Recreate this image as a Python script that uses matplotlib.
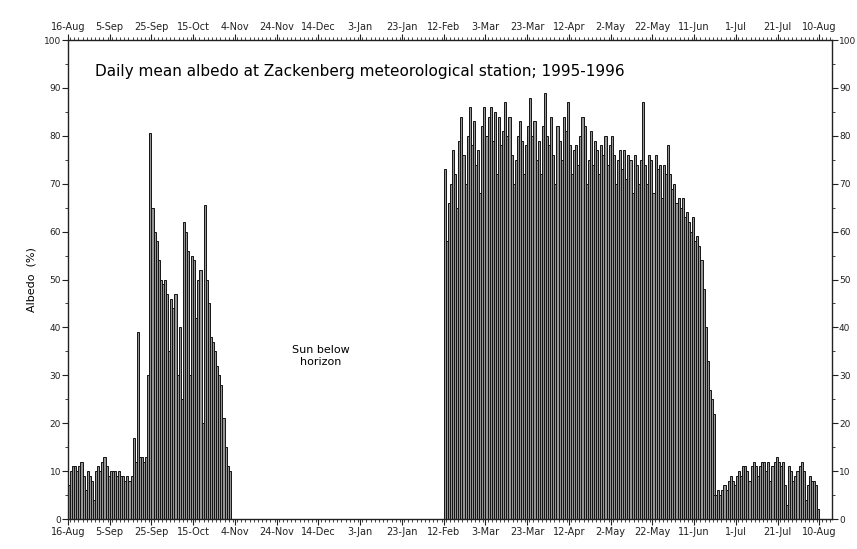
import numpy as np
import pandas as pd
import matplotlib

matplotlib.use("agg")
import matplotlib.pyplot as plt
import matplotlib.dates as mdates

plt.rcParams["font.family"] = ["DejaVu Sans"]

# daily mean albedo (%), three measurement periods
autumn_start = "1995-08-16"
autumn_albedo = [7, 10, 11, 11, 10, 11, 12, 9, 6, 10,
                 9, 8, 4, 10, 11, 10, 12, 13, 11, 9,
                 10, 10, 10, 9, 10, 9, 9, 8, 9, 8,
                 9, 17, 12, 39, 13, 13, 12, 13, 30, 80.5,
                 65, 60, 58, 54, 50, 49, 50, 47, 35, 46,
                 44, 47, 30, 40, 25, 62, 60, 56, 30, 55,
                 54, 42, 50, 52, 20, 65.5, 50, 45, 38, 37,
                 35, 32, 30, 28, 21, 15, 11, 10]

spring_start = "1996-02-12"
spring_albedo = [73, 58, 66, 70, 77, 72, 65, 79, 84, 76,
                 70, 80, 86, 78, 83, 74, 77, 68, 82, 86,
                 80, 84, 86, 79, 85, 72, 84, 78, 81, 87,
                 80, 84, 76, 70, 75, 80, 83, 79, 72, 78,
                 82, 88, 80, 83, 75, 79, 72, 82, 89, 80,
                 78, 84, 76, 70, 82, 79, 75, 84, 81, 87,
                 78, 72, 77, 78, 74, 80, 84, 82, 70, 75,
                 81, 74, 79, 77, 72, 78, 76, 80, 74, 78,
                 80, 76, 70, 75, 77, 73, 77, 71, 76, 75,
                 68, 76, 74, 70, 75, 87, 74, 70, 76, 75,
                 68, 76, 73, 74, 67, 74, 72, 78, 72, 69,
                 70, 66, 67, 65, 67, 63, 64, 62, 60, 63,
                 58, 59, 57, 54, 48, 40, 33, 27, 25, 22]

summer_start = "1996-06-20"
summer_albedo = [5, 5, 6, 5, 6, 7, 6, 8, 9, 8,
                 7, 9, 10, 9, 11, 11, 10, 8, 11, 12,
                 11, 9, 11, 12, 12, 10, 12, 8, 11, 12,
                 13, 12, 11, 12, 7, 3, 11, 10, 8, 9,
                 10, 11, 12, 10, 4, 7, 9, 8, 8, 7, 2]

x_start = pd.Timestamp("1995-08-16")
x_end = pd.Timestamp("1996-08-16")
tick_dates = pd.date_range(x_start, periods=19, freq="20D")

fig = plt.figure(figsize=(8.57, 5.49), dpi=100)
ax = fig.add_axes([0.0793, 0.0546, 0.8915, 0.8724])

for start, vals in [(autumn_start, autumn_albedo),
                    (spring_start, spring_albedo),
                    (summer_start, summer_albedo)]:
    days = pd.date_range(start, periods=len(vals), freq="D")
    ax.bar(days, vals, width=1.0, align="edge", color="#959595",
           edgecolor="#141414", linewidth=0.7)

ax.set_xlim(x_start, x_end)
ax.set_ylim(0, 100)

ax.set_xticks(tick_dates)
ax.xaxis.set_major_formatter(mdates.DateFormatter("%-d-%b"))
ax.xaxis.set_minor_locator(mdates.DayLocator(interval=2))
ax.set_yticks(np.arange(0, 101, 10))
ax.set_yticks(np.arange(0, 101, 5), minor=True)

ax.tick_params(which="both", direction="out", top=True, right=True,
               labeltop=True, labelright=True, labelsize=7, colors="#222222")
ax.tick_params(which="major", length=4, width=0.8)
ax.tick_params(which="minor", length=2.5, width=0.6)
ax.tick_params(axis="x", pad=2)
ax.tick_params(axis="y", pad=1)
ax.tick_params(axis="y", which="major", labelsize=6.5)
for s in ax.spines.values():
    s.set_linewidth(1.0)
    s.set_color("#222222")

ax.set_ylabel("Albedo  (%)", fontsize=8, labelpad=5)

ax.text(pd.Timestamp("1995-08-29"), 93.5,
        "Daily mean albedo at Zackenberg meteorological station; 1995-1996",
        fontsize=11, va="center", ha="left")
ax.text(pd.Timestamp("1995-12-15"), 34, "Sun below\nhorizon",
        fontsize=8, ha="center", va="center", linespacing=1.3)

plt.savefig("out.png", dpi=100)
